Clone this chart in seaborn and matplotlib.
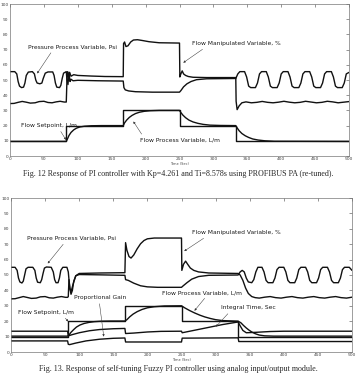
import matplotlib
matplotlib.use("Agg")
import matplotlib.pyplot as plt
import seaborn as sns

sns.set_theme(style="white")
plt.rcParams['font.family'] = ['DejaVu Sans']

# set point steps (both figures)
step_t = [0, 83, 167, 250, 333, 500]
setpoint = [10, 20, 30, 20, 10, 10]

# ---- Fig 12 : PI controller, (time, value)
pressure12 = [(0, 55.5), (7, 55.5), (10, 54), (12, 49), (14, 46), (17, 45), (20, 45.3), (22, 48), (24, 53),
              (27, 55.2), (33, 55.5), (36, 54), (38, 50), (40, 48), (44, 47.5), (47, 48), (49, 51), (52, 54.5),
              (56, 55.3), (63, 55.3), (65, 53), (67, 48), (69, 45.3), (73, 45), (75, 46.5), (77, 51), (79, 54.5),
              (83, 55.5), (84, 50), (85.5, 47), (87, 55), (88.5, 49), (90, 50.5), (93, 49.5), (100, 49.8),
              (130, 49.5), (167, 49.3), (168, 45), (170, 43.5), (175, 42.8), (185, 42.3), (210, 42), (250, 42),
              (252, 43), (256, 45.5), (261, 47.5), (267, 49), (275, 50.2), (290, 50.8), (333, 51),
              (336, 54), (339, 55.5), (346, 55.5), (349, 52), (352, 46), (355, 45), (362, 45), (365, 48), (368, 54),
              (371, 55.5), (378, 55.5), (381, 52), (384, 46), (387, 45), (394, 45), (397, 48), (400, 54),
              (403, 55.5), (410, 55.5), (413, 52), (416, 46), (419, 45), (426, 45), (429, 48), (432, 54),
              (435, 55.5), (442, 55.5), (445, 52), (448, 46), (451, 45), (458, 45), (461, 48), (464, 54),
              (467, 55.5), (474, 55.5), (477, 52), (480, 46), (483, 45), (490, 45), (493, 48), (496, 54), (500, 55)]

manip12 = [(0, 34.5), (6, 34.6), (12, 35.3), (18, 35.9), (24, 35.4), (30, 34.8), (37, 35.0), (43, 35.8), (50, 36.0),
           (56, 35.2), (62, 35.0), (68, 35.6), (74, 36.0), (80, 35.5), (83, 35.5), (84, 50), (85, 55.5), (86.5, 52),
           (88, 55), (90, 52.5), (94, 53.5), (100, 53), (120, 52.6), (140, 52.3), (167, 52.2), (167.5, 74), (169, 75),
           (171, 72), (174, 72.5), (178, 75), (182, 76.3), (188, 76.5), (195, 76), (205, 75.2), (220, 74.5),
           (250, 74.3), (250.5, 52), (252, 54), (254, 56), (256, 54), (259, 53), (263, 52.3), (270, 51.8),
           (290, 51.6), (333, 51.6), (333.5, 36), (335, 30.5), (338, 33), (342, 35), (348, 35.6), (356, 35),
           (364, 35.3), (372, 35.9), (380, 35.3), (388, 35), (396, 35.4), (404, 36), (412, 35.4), (420, 35),
           (428, 35.3), (436, 36), (444, 35.5), (452, 35), (460, 35.3), (468, 36), (476, 35.6), (484, 35),
           (492, 35.4), (500, 35.8)]

flow12 = [(0, 9.6), (83, 9.6), (85, 11.5), (87, 13.5), (90, 15.5), (94, 17.2), (98, 18.3), (103, 19.1), (110, 19.6),
          (120, 19.9), (135, 20), (167, 20), (169, 21.8), (172, 23.6), (176, 25.4), (180, 26.7), (185, 27.9),
          (191, 28.8), (198, 29.4), (207, 29.8), (220, 30), (250, 30), (252, 28.6), (255, 26.9), (259, 25.2),
          (264, 23.6), (270, 22.4), (277, 21.5), (285, 20.8), (295, 20.3), (310, 20.1), (333, 20), (335, 18.5),
          (338, 16.6), (342, 14.8), (347, 13.3), (352, 12.2), (358, 11.2), (366, 10.5), (376, 10), (390, 9.7),
          (500, 9.6)]

# ---- Fig 13 : self-tuning fuzzy PI
pressure13 = [(0, 55), (6, 55), (9, 53), (11, 48), (13, 45.5), (16, 44.8), (18, 46), (20, 50), (22, 54), (25, 55),
              (32, 55), (35, 53), (37, 48), (39, 45.3), (43, 45), (45, 47), (47, 51), (49, 54.5), (52, 55.2),
              (59, 55), (62, 52), (64, 47), (66, 45), (69, 45), (71, 48), (73, 53), (76, 55), (82, 55), (84, 52),
              (86, 42), (88, 37.5), (90, 40), (92, 46), (95, 49.5), (100, 50.3), (130, 50.1), (167, 49.8),
              (168, 47), (172, 46.5), (180, 44.7), (190, 43), (200, 42.3), (215, 42), (250, 42), (252, 42.8),
              (258, 45), (265, 47.3), (275, 49), (290, 49.8), (333, 50), (336, 52), (339, 53), (342, 52),
              (345, 48), (348, 45.5), (353, 45), (356, 47), (359, 52), (362, 55), (368, 55), (371, 52), (374, 46.5),
              (377, 45), (384, 45), (387, 48), (390, 53.5), (393, 55), (400, 55), (403, 52), (406, 46.5), (409, 45),
              (416, 45), (419, 48), (422, 53.5), (425, 55), (432, 55), (435, 52), (438, 46.5), (441, 45), (448, 45),
              (451, 48), (454, 53.5), (457, 55), (464, 55), (467, 52), (470, 46.5), (473, 45), (480, 45), (483, 48),
              (486, 53.5), (489, 55), (496, 55), (500, 53)]

manip13 = [(0, 34.5), (6, 34.6), (12, 35.3), (18, 36), (24, 35.4), (30, 34.8), (37, 35), (43, 35.8), (50, 36),
           (56, 35.2), (62, 35), (68, 35.6), (74, 36), (80, 35.5), (83, 35.5), (84, 36), (85, 47), (86.5, 41),
           (88, 39), (91, 44), (95, 49.5), (100, 51), (130, 51.3), (167, 51.5), (168, 71), (170, 66), (173, 62),
           (176, 61), (180, 63), (185, 67), (190, 70.3), (195, 72.4), (200, 73.5), (210, 74), (250, 74),
           (250.5, 53), (253, 57), (256, 59), (259, 57), (263, 54.5), (268, 53), (275, 52), (290, 51.3), (333, 51),
           (336, 50), (340, 46.5), (344, 41.5), (348, 38), (353, 36), (358, 35.3), (364, 35), (372, 35.6),
           (380, 36), (388, 35.3), (396, 35), (404, 35.6), (412, 36), (420, 35.3), (428, 35), (436, 35.6),
           (444, 36), (452, 35.3), (460, 35), (468, 35.6), (476, 36), (484, 35.3), (492, 35), (500, 35.6)]

flow13 = [(0, 10.3), (83, 10.3), (85, 11), (88, 12.8), (92, 14.6), (96, 16.2), (101, 17.5), (107, 18.5), (114, 19.2),
          (122, 19.7), (132, 20), (145, 20.1), (167, 20.1), (170, 21), (174, 22.8), (179, 24.6), (185, 26.2),
          (192, 27.6), (200, 28.7), (210, 29.4), (225, 29.9), (250, 30), (255, 28.6), (262, 26.9), (269, 25.4),
          (277, 23.9), (284, 22.8), (292, 21.8), (300, 21), (310, 20.4), (333, 20), (337, 19), (341, 17.2),
          (345, 15.6), (349, 14.2), (353, 13), (358, 11.9), (364, 11), (372, 10.5), (385, 10.3), (500, 10.3)]

integral13 = [(0, 13.5), (83, 13.5), (84, 10.5), (90, 11.3), (100, 12.5), (115, 13.8), (130, 14.6), (150, 15.1),
              (167, 15.3), (168, 12), (180, 12.3), (200, 13), (220, 13.4), (250, 13.5), (251, 12.5), (270, 14.2),
              (290, 16), (310, 17.8), (333, 19.5), (336, 17), (340, 14), (345, 12.5), (360, 12.8), (380, 13.3),
              (400, 13.5), (500, 13.5)]

gain13 = [(0, 7.2), (83, 7.2), (84, 5), (86, 4.8), (95, 5.8), (110, 7.2), (130, 8.3), (150, 8.9), (167, 9.1),
          (168, 6.5), (200, 6.5), (250, 6.5), (251, 9), (333, 9.2), (334, 6.8), (500, 6.8)]

ticks_x = [0, 50, 100, 150, 200, 250, 300, 350, 400, 450, 500]
ticks_y = [0, 10, 20, 30, 40, 50, 60, 70, 80, 90, 100]

cap12 = "Fig. 12 Response of PI controller with Kp=4.261 and Ti=8.578s using PROFIBUS PA (re-tuned)."
cap13 = "Fig. 13. Response of self-tuning Fuzzy PI controller using analog input/output module."


def trace(ax, pts, lw=1.0):
    t = [p[0] for p in pts]
    v = [p[1] for p in pts]
    sns.lineplot(x=t, y=v, ax=ax, color='#111111', lw=lw, estimator=None, sort=False)


def note(ax, text, xy, xytext, rel):
    ax.annotate(text, xy=xy, xytext=xytext, ha='left', va='center', fontsize=4.3, color='#1a1a1a',
                arrowprops=dict(arrowstyle='-|>', lw=0.35, color='#333333', mutation_scale=3,
                                shrinkA=0, shrinkB=0, relpos=rel))


def frame(ax):
    ax.set_xlim(0, 500)
    ax.set_ylim(0, 100)
    ax.set_xticks(ticks_x)
    ax.set_yticks(ticks_y)
    ax.tick_params(direction='in', top=True, right=True, length=2, width=0.4, labelsize=3.2, pad=1,
                   colors='#444444')
    for s in ax.spines.values():
        s.set_color('#777777')
        s.set_linewidth(0.5)
    ax.set_xlabel('Time (Sec)', fontsize=2.5, labelpad=0.3, color='#444444')
    ax.set_ylabel('')


fig = plt.figure(figsize=(3.56, 3.76), dpi=100)
ax1 = fig.add_axes([10 / 356, 1 - 156 / 376, 339 / 356, 152 / 376])
ax2 = fig.add_axes([11 / 356, 1 - 352 / 376, 341 / 356, 154 / 376])

for ax, pp, mv, fl in [(ax1, pressure12, manip12, flow12), (ax2, pressure13, manip13, flow13)]:
    sns.lineplot(x=step_t, y=setpoint, ax=ax, color='#111111', lw=1.0, drawstyle='steps-post',
                 estimator=None, sort=False)
    trace(ax, fl)
    trace(ax, pp)
    trace(ax, mv)
    frame(ax)

trace(ax2, integral13)
trace(ax2, gain13)

note(ax1, 'Pressure Process Variable, Psi', (40, 54.3), (26.8, 71.7), (0.28, 0))
note(ax1, 'Flow Manipulated Variable, %', (255.6, 61.4), (268.7, 74), (0.17, 0))
note(ax1, 'Flow Setpoint, L/m', (82.6, 10.6), (16.5, 19.9), (0.66, 0.2))
note(ax1, 'Flow Process Variable, L/m', (182, 22.7), (191.4, 10.6), (0.05, 1))

note(ax2, 'Pressure Process Variable, Psi', (53.8, 57.5), (23, 73.7), (0.44, 0))
note(ax2, 'Flow Manipulated Variable, %', (254, 65.5), (265, 77.6), (0.19, 0))
note(ax2, 'Flow Process Variable, L/m', (269, 26.8), (221, 38.6), (0.57, 0))
note(ax2, 'Integral Time, Sec', (300.6, 16.5), (308, 28.6), (0.18, 0))
note(ax2, 'Proportional Gain', (136, 10), (92.4, 35.1), (0.48, 0))
note(ax2, 'Flow Setpoint, L/m', (84, 19.8), (10.7, 25.7), (0.77, 0.2))

fig.text(0.5, 1 - 174 / 376, cap12, ha='center', va='center', fontsize=5.8, family='Liberation Serif')
fig.text(0.5, 1 - 369 / 376, cap13, ha='center', va='center', fontsize=5.8, family='Liberation Serif')

fig.savefig('out.png', dpi=100)
